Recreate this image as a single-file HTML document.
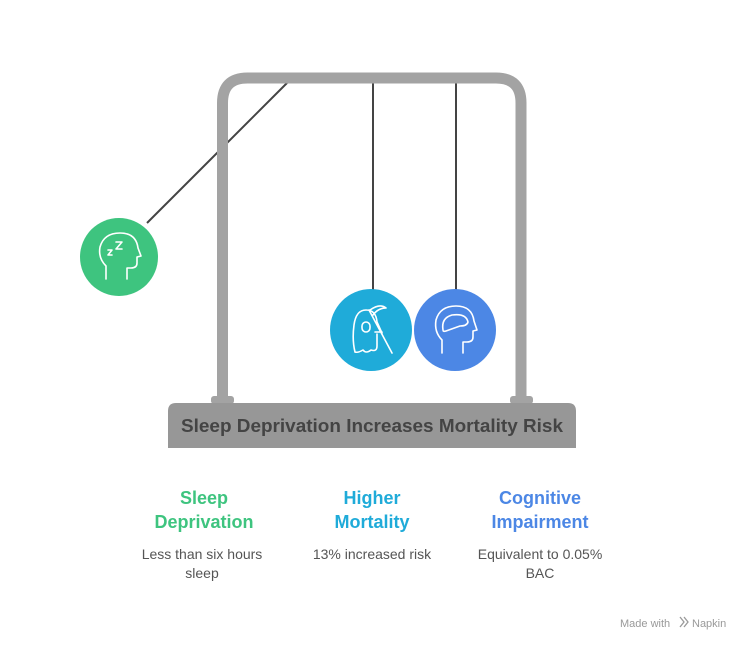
<!DOCTYPE html>
<html><head><meta charset="utf-8"><style>
body{margin:0;background:#fff;width:744px;height:642px;overflow:hidden;font-family:"Liberation Sans",Arial,sans-serif}
</style></head><body>
<svg width="744" height="642" viewBox="0 0 744 642" xmlns="http://www.w3.org/2000/svg" font-family="Liberation Sans, Arial, sans-serif">
<line x1="287" y1="83" x2="147" y2="223" stroke="#444" stroke-width="2"/>
<line x1="373" y1="83" x2="373" y2="290" stroke="#444" stroke-width="2"/>
<line x1="456" y1="83" x2="456" y2="290" stroke="#444" stroke-width="2"/>
<path d="M222.5 398 V103 Q222.5 78 247.5 78 H496 Q521 78 521 103 V398" fill="none" stroke="#a3a3a3" stroke-width="11"/>
<rect x="211" y="396" width="23" height="8" rx="3" fill="#a3a3a3"/>
<rect x="510" y="396" width="23" height="8" rx="3" fill="#a3a3a3"/>
<path d="M168 448 V411 Q168 403 176 403 H568 Q576 403 576 411 V448 Z" fill="#979797"/>
<text x="181" y="432" textLength="382" lengthAdjust="spacingAndGlyphs" font-size="18" font-weight="bold" fill="#444">Sleep Deprivation Increases Mortality Risk</text>
<circle cx="119" cy="257" r="39" fill="#3ec47f"/>
<g fill="none" stroke="#fff" stroke-width="1.6" stroke-linecap="round" stroke-linejoin="round">
<path d="M106 279 V266 Q98 258 100 247 Q104 233 120 233 Q136 233 138 248 L141 256 L137 257 V263 Q137 268 131 268 H127 V279"/>
<path d="M108 250 h4 l-4 5 h4 M116 242 h6 l-6 7 h6"/>
</g>
<circle cx="371" cy="330" r="41" fill="#1fabd9"/>
<g fill="none" stroke="#fff" stroke-width="1.6" stroke-linecap="round" stroke-linejoin="round">
<path d="M355 352 Q352 340 354 325 Q356 310 366 310 Q376 310 377 322 L382 333 M377 334 V346 Q377 352 371 350 Q366 354 363 350 Q358 353 355 352"/>
<rect x="362" y="322" width="8" height="10" rx="4"/>
<path d="M369 310 L392 353 M370 310 Q380 303 386 308 Q378 308 373 315 M375 332 H382"/>
</g>
<circle cx="455" cy="330" r="41" fill="#4c87e5"/>
<g fill="none" stroke="#fff" stroke-width="1.6" stroke-linecap="round" stroke-linejoin="round">
<path d="M442 353 V340 Q434 332 436 320 Q440 306 456 306 Q472 306 474 321 L477 330 L473 331 V337 Q473 342 467 342 H463 V353"/>
<path d="M443 330 Q441 318 452 315 Q466 313 468 322 Q467 326 460 326 L446 331 Q443 332 443 330Z"/>
</g>
<g font-size="18" font-weight="bold" text-anchor="middle">
<text x="204" y="504" fill="#3ec47f">Sleep</text><text x="204" y="528" fill="#3ec47f">Deprivation</text>
<text x="372" y="504" fill="#1fabd9">Higher</text><text x="372" y="528" fill="#1fabd9">Mortality</text>
<text x="540" y="504" fill="#4c87e5">Cognitive</text><text x="540" y="528" fill="#4c87e5">Impairment</text>
</g>
<g font-size="14" fill="#555" text-anchor="middle">
<text x="202" y="559">Less than six hours</text><text x="202" y="578">sleep</text>
<text x="372" y="559">13% increased risk</text>
<text x="540" y="559">Equivalent to 0.05%</text><text x="540" y="578">BAC</text>
</g>
<text x="620" y="627" font-size="11" fill="#999">Made with</text>
<path d="M680 617 l4 5 l-4 5 M684 617 l4 5 l-4 5" stroke="#999" fill="none" stroke-width="1.3"/>
<text x="692" y="627" font-size="11" fill="#999">Napkin</text>
</svg>
</body></html>
